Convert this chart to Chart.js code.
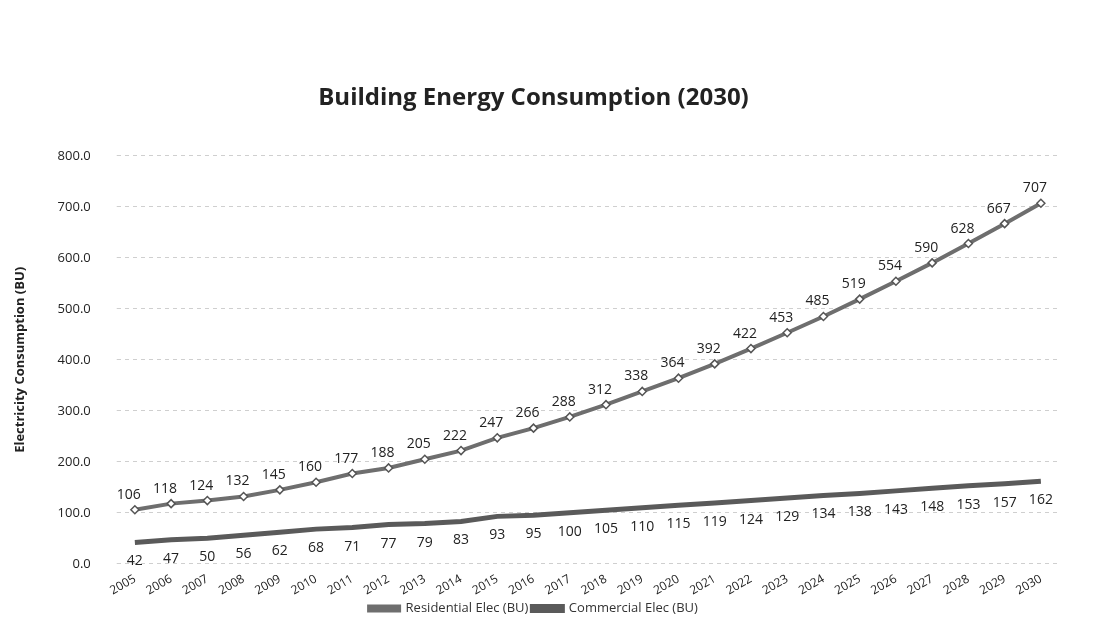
<!DOCTYPE html>
<html lang="en">
<head>
  <meta charset="UTF-8">
  <title>Building Energy Consumption (2030)</title>
  <script src="https://cdn.jsdelivr.net/npm/chart.js"></script>
  <style>
    body { margin: 0; background: #fff; }
  </style>
</head>
<body>
  <canvas id="lineChart" width="1109" height="625"></canvas>
  <script>
    const years = ['2005', '2006', '2007', '2008', '2009', '2010', '2011', '2012', '2013', '2014',
      '2015', '2016', '2017', '2018', '2019', '2020', '2021', '2022', '2023', '2024',
      '2025', '2026', '2027', '2028', '2029', '2030'];
    const residential = [106, 118, 124, 132, 145, 160, 177, 188, 205, 222, 247, 266, 288, 312, 338,
      364, 392, 422, 453, 485, 519, 554, 590, 628, 667, 707];
    const commercial = [42, 47, 50, 56, 62, 68, 71, 77, 79, 83, 93, 95, 100, 105, 110,
      115, 119, 124, 129, 134, 138, 143, 148, 153, 157, 162];

    // draws the value next to each point (above for residential, below for commercial)
    const valueLabels = {
      id: 'valueLabels',
      afterDatasetsDraw(chart) {
        const ctx = chart.ctx;
        ctx.save();
        ctx.font = '14px "Open Sans", sans-serif';
        ctx.fillStyle = '#222';
        ctx.textAlign = 'center';
        chart.data.datasets.forEach((ds, i) => {
          const meta = chart.getDatasetMeta(i);
          meta.data.forEach((pt, j) => {
            if (i === 0) {
              ctx.textBaseline = 'bottom';
              ctx.fillText(ds.data[j], pt.x - 6, pt.y - 8);
            } else {
              ctx.textBaseline = 'top';
              ctx.fillText(ds.data[j], pt.x, pt.y + 12);
            }
          });
        });
        ctx.restore();
      }
    };

    new Chart(document.getElementById('lineChart'), {
      type: 'line',
      data: {
        labels: years,
        datasets: [{
          label: 'Residential Elec (BU)',
          data: residential,
          borderColor: '#6e6e6e',
          borderWidth: 4,
          pointStyle: 'rectRot',
          pointRadius: 4,
          pointBackgroundColor: '#fff',
          pointBorderColor: '#555',
          pointBorderWidth: 1.5,
          tension: 0
        }, {
          label: 'Commercial Elec (BU)',
          data: commercial,
          borderColor: '#5a5a5a',
          borderWidth: 5,
          pointRadius: 0,
          tension: 0
        }]
      },
      options: {
        responsive: false,
        animation: false,
        layout: { padding: { left: 8, right: 50, top: 84, bottom: 0 } },
        plugins: {
          title: {
            display: true,
            text: 'Building Energy Consumption (2030)',
            font: { family: '"Open Sans", sans-serif', size: 24, weight: 'bold' },
            color: '#222',
            padding: { top: 0, bottom: 43 }
          },
          legend: {
            position: 'bottom',
            labels: {
              font: { family: '"Open Sans", sans-serif', size: 13 },
              color: '#333',
              boxWidth: 30,
              boxHeight: 4,
              padding: 4
            }
          },
          tooltip: { enabled: false }
        },
        scales: {
          x: {
            offset: true,
            grid: { display: false },
            border: { display: false },
            ticks: {
              font: { family: '"Open Sans", sans-serif', size: 12 },
              color: '#222',
              maxRotation: 30,
              minRotation: 30,
              padding: 0
            }
          },
          y: {
            min: 0,
            max: 800,
            grid: { color: '#cfcfcf', tickLength: 0 },
            border: { display: false, dash: [4, 4] },
            ticks: {
              stepSize: 100,
              padding: 26,
              font: { family: '"Open Sans", sans-serif', size: 13 },
              color: '#222',
              callback: v => v.toFixed(1)
            },
            title: {
              display: true,
              text: 'Electricity Consumption (BU)',
              font: { family: '"Open Sans", sans-serif', size: 13, weight: 'bold' },
              color: '#222'
            }
          }
        }
      },
      plugins: [valueLabels]
    });
  </script>
</body>
</html>
